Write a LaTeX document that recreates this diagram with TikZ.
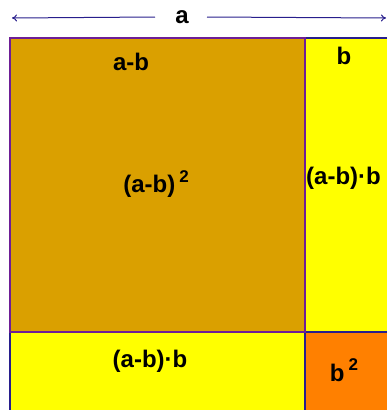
\documentclass[tikz,border=0pt]{standalone}
\usepackage{fontspec}
\setmainfont{Liberation Sans}
\usetikzlibrary{arrows.meta,positioning}
\definecolor{gold}{RGB}{218,160,0}
\definecolor{lemon}{RGB}{255,255,0}
\definecolor{tangerine}{RGB}{255,128,0}
\definecolor{navy}{RGB}{40,30,140}
\definecolor{plum}{RGB}{110,30,150}
\tikzset{
  part/.style={draw=navy, line width=1.6pt},
  lbl/.style={font=\fontsize{24}{26}\selectfont\bfseries, inner sep=0pt},
  dimarrow/.style={-{To[length=5pt,width=7pt]}, draw=navy, line width=1pt}
}

\begin{document}
\begin{tikzpicture}[x=1pt,y=-1pt]
\useasboundingbox (0,0) rectangle (387,410);
% pieces of the square
\draw[part, fill=lemon] (305,38) rectangle (392,334);
\draw[part, fill=lemon] (10,332) rectangle (305,415);
\draw[part, fill=tangerine] (305,332) rectangle (392,415);
\draw[part, draw=plum, fill=gold] (10,38) rectangle (305,332);
% side length
\node[lbl] (a) at (182,17) {a};
\coordinate (al) at (12,18);
\coordinate (ar) at (386,18);
\draw[dimarrow] ([xshift=-27pt]a.center) -- (al);
\draw[dimarrow] ([xshift=25pt]a.center) -- (ar);
% labels
\node[lbl] (amb) at (131,62) {a-b};
\node[lbl] (sq) at (156,184) {(a-b)\,\raisebox{0.85ex}{\fontsize{17}{18}\selectfont 2}};
\node[lbl] (b) at (344,56) {b};
\node[lbl, anchor=west] (rc) at (306,178) {(a-b)·b};
\node[lbl] (bc) at (150,361) {(a-b)·b};
\node[lbl] (bsq) at (344,370) {b\,\raisebox{0.85ex}{\fontsize{17}{18}\selectfont 2}};
\end{tikzpicture}
\end{document}
